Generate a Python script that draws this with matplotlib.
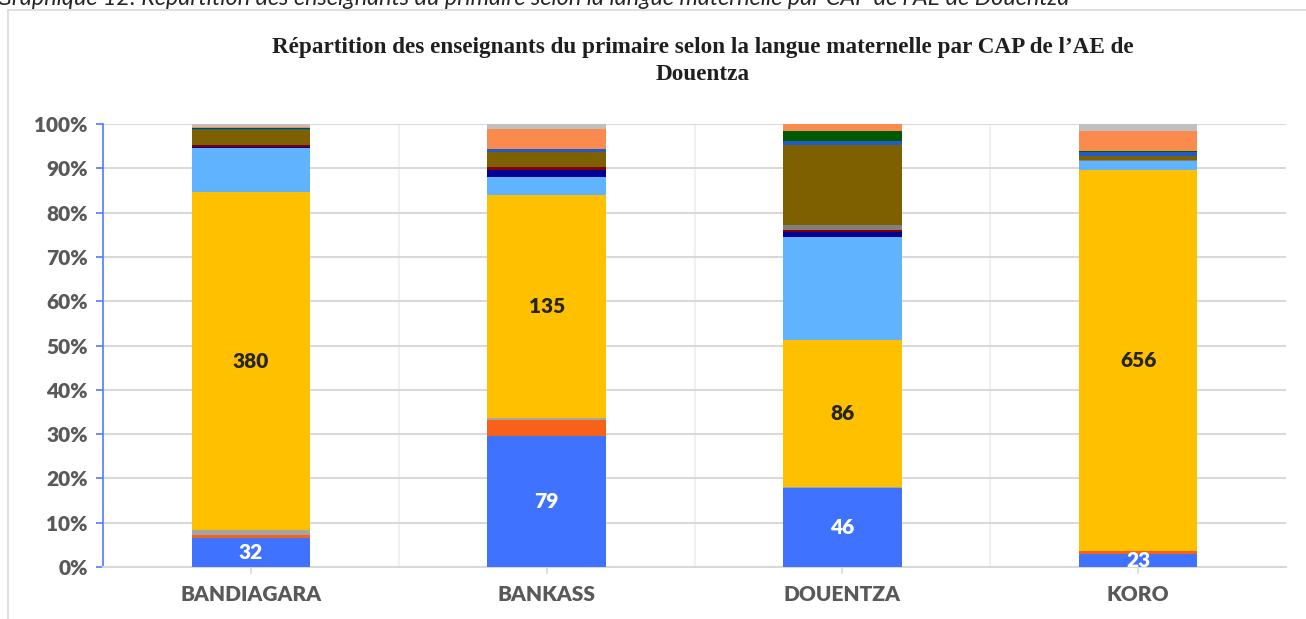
import numpy as np
import matplotlib.pyplot as plt
from matplotlib.patches import Rectangle

# Données : nombre d'enseignants par langue maternelle (empilées du bas vers le haut)
cap = ["BANDIAGARA", "BANKASS", "DOUENTZA", "KORO"]

bleu = [32, 79, 46, 23]
orange_fonce = [4, 10, 0, 5]
gris_clair = [5, 1, 1, 0]
jaune = [380, 135, 86, 656]
bleu_ciel = [49, 11, 60, 16]
vert_vif = [0, 0, 0, 1]
bleu_marine = [1, 4, 3, 0]
rouge_fonce = [3, 2, 1, 0]
gris = [0, 0, 3, 1]
marron = [16, 9, 47, 7]
bleu_moyen = [1, 2, 2, 7]
vert_fonce = [1, 0, 6, 1]
orange_clair = [2, 12, 4, 35]
gris_argent = [3, 3, 0, 12]

series = [bleu, orange_fonce, gris_clair, jaune, bleu_ciel, vert_vif, bleu_marine,
          rouge_fonce, gris, marron, bleu_moyen, vert_fonce, orange_clair, gris_argent]
couleurs = ["#3F72FF", "#F8611A", "#A5A5A5", "#FFC000", "#5FB3FF", "#66CC33", "#000099",
            "#800000", "#808080", "#7F6000", "#1F5CC8", "#005A00", "#FB8A4E", "#C0C0C0"]

counts = np.array(series, dtype=float)
totaux = counts.sum(axis=0)
pct = counts / totaux * 100

fig = plt.figure(figsize=(13.06, 6.19), dpi=100)
ax = fig.add_axes([103/1306, 1 - 567/619, (1286 - 103)/1306, (567 - 124)/619])

x = np.arange(len(cap))
bas = np.zeros(len(cap))
barres = []
for vals, c in zip(pct, couleurs):
    b = ax.bar(x, vals, 0.4, bottom=bas, color=c, zorder=3)
    barres.append(b)
    bas += vals

# étiquettes des valeurs
ax.bar_label(barres[0], labels=[str(v) for v in bleu], label_type="center",
             color="white", fontsize=15, fontweight="heavy", family="Lato")
ax.bar_label(barres[3], labels=[str(v) for v in jaune], label_type="center",
             color="#262626", fontsize=15, fontweight="heavy", family="Lato")

ax.set_xlim(-0.5, 3.5)
ax.set_ylim(0, 100)
ax.set_yticks(np.arange(0, 101, 10))
ax.set_yticklabels([f"{v}%" for v in range(0, 101, 10)])
ax.set_xticks(x)
ax.set_xticklabels(cap)
for lab in ax.get_xticklabels() + ax.get_yticklabels():
    lab.set_family("Lato")
    lab.set_fontweight("heavy")
    lab.set_fontsize(15)
    lab.set_color("#595959")

ax.grid(axis="y", color="#D9D9D9", lw=1.5, zorder=0)
ax.set_xticks([0.5, 1.5, 2.5], minor=True)
ax.grid(axis="x", which="minor", color="#F0F0F0", lw=1.5, zorder=0)
ax.tick_params(axis="x", which="minor", length=0)
ax.tick_params(axis="x", which="major", length=5, color="#D9D9D9", width=1.2, pad=8)
ax.tick_params(axis="y", length=5, color="#4F7BFF", width=1.2, pad=6)

for s in ["top", "right"]:
    ax.spines[s].set_visible(False)
ax.spines["bottom"].set_color("#D9D9D9")
ax.spines["bottom"].set_linewidth(1.5)
ax.spines["left"].set_color("#4F7BFF")
ax.spines["left"].set_linewidth(1.2)

# cadre du graphique
fig.patches.append(Rectangle((8/1306, -0.1), 1.2, 1 - 10/619 + 0.1, transform=fig.transFigure,
                             fill=False, edgecolor="#D9D9D9", lw=1.2))

fig.text(703/1306, 1 - 47/619,
         "Répartition des enseignants du primaire selon la langue maternelle par CAP de l’AE de",
         ha="center", va="center", family="Liberation Serif", fontweight="bold",
         fontsize=16.7, color="#1F1F1F")
fig.text(703/1306, 1 - 75/619, "Douentza",
         ha="center", va="center", family="Liberation Serif", fontweight="bold",
         fontsize=16.7, color="#1F1F1F")

# légende du document, coupée en haut comme dans l'original
fig.text(-4/1306, 1 - 5/619,
         "Graphique 12: Répartition des enseignants du primaire selon la langue maternelle par CAP de l’AE de Douentza",
         ha="left", va="baseline", family="Lato", style="italic", fontsize=16.8, color="#262626")

fig.savefig("out.png", dpi=100)
